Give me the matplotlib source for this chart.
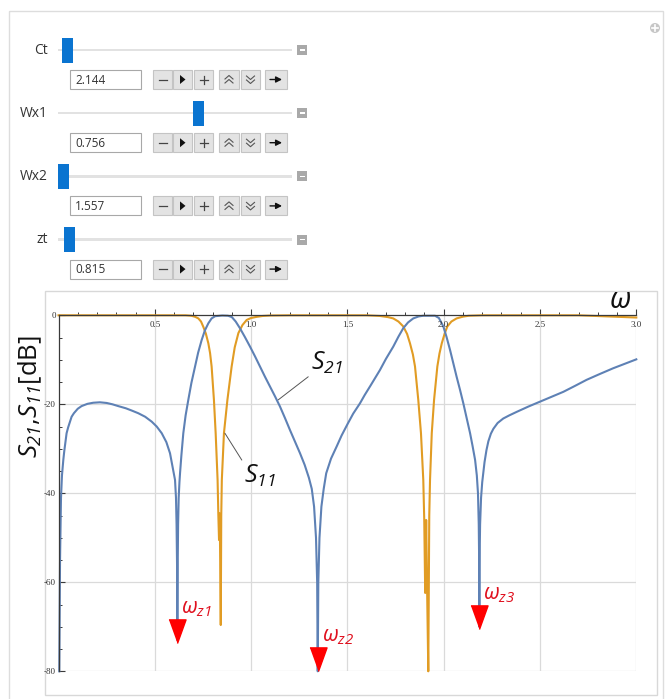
import matplotlib
matplotlib.use('Agg')
import matplotlib.pyplot as plt
from matplotlib.patches import Rectangle, Polygon, Circle
import numpy as np

plt.rcParams['mathtext.fontset'] = 'custom'
plt.rcParams['mathtext.it'] = 'Open Sans:italic'
plt.rcParams['mathtext.rm'] = 'Open Sans:italic'
plt.rcParams['axes.unicode_minus'] = False

# ---------------- data ----------------
s21_w = [0.004, 0.008, 0.013, 0.018, 0.025, 0.03, 0.042, 0.05, 0.068, 0.08,
         0.1, 0.12, 0.15, 0.18, 0.215, 0.25, 0.28, 0.31, 0.35, 0.38,
         0.414, 0.45, 0.484, 0.51, 0.536, 0.56, 0.579, 0.59, 0.605, 0.61,
         0.613, 0.6155, 0.617, 0.619, 0.621, 0.624, 0.628, 0.631, 0.638, 0.648,
         0.66, 0.674, 0.69, 0.709, 0.725, 0.743, 0.76, 0.778, 0.795, 0.813,
         0.85, 0.88, 0.9, 0.92, 0.942, 0.968, 0.994, 1.02, 1.046, 1.072,
         1.098, 1.124, 1.15, 1.176, 1.202, 1.228, 1.254, 1.278, 1.30, 1.315,
         1.327, 1.337, 1.343, 1.346, 1.349, 1.355, 1.365, 1.377, 1.39, 1.415,
         1.444, 1.47, 1.50, 1.53, 1.565, 1.59, 1.62, 1.645, 1.669, 1.7,
         1.738, 1.765, 1.79, 1.815, 1.842, 1.87, 1.894, 1.955, 1.975, 1.998,
         2.015, 2.033, 2.05, 2.067, 2.085, 2.102, 2.12, 2.137, 2.15, 2.163,
         2.172, 2.178, 2.182, 2.1843, 2.185, 2.186, 2.189, 2.194, 2.2, 2.212,
         2.222, 2.232, 2.245, 2.258, 2.28, 2.309, 2.34, 2.379, 2.44, 2.5,
         2.56, 2.621, 2.68, 2.742, 2.81, 2.88, 2.94, 3.0]
s21_db = [-80, -55, -41, -36, -32.5, -30.5, -26.5, -25.2, -22.8, -22.0,
          -21.0, -20.4, -19.9, -19.65, -19.55, -19.7, -20.0, -20.4, -20.9, -21.4,
          -22.0, -22.8, -23.9, -25.0, -26.5, -28.5, -31, -33.5, -37, -41,
          -47, -56, -73, -56, -47, -41, -37.5, -35.5, -31.5, -26.5,
          -22.5, -19, -15.2, -11.5, -8.4, -5.6, -3.4, -1.8, -0.7, -0.2,
          -0.05, -0.1, -0.4, -1.4, -2.9, -4.9, -7.0, -9.2, -11.5, -13.8,
          -16, -18.2, -20.5, -23.1, -25.8, -28.4, -31, -33.6, -36.5, -39,
          -43, -50, -60, -80, -60, -50, -43, -39, -35.5, -32.2,
          -29.5, -27.0, -24.5, -22.1, -19.8, -17.9, -15.8, -14.0, -12.3, -9.8,
          -7.05, -4.8, -2.9, -1.6, -0.7, -0.25, -0.1, -0.1, -0.6, -2.5,
          -4.9, -7.8, -10.8, -13.8, -16.8, -19.8, -23.2, -26.5, -29.4, -32.5,
          -36, -40, -47, -56, -70, -56, -47, -41, -37.5, -33,
          -30.3, -28.3, -26.6, -25.5, -24.2, -23.2, -22.5, -21.7, -20.5, -19.4,
          -18.3, -17.2, -15.9, -14.5, -13.2, -11.9, -10.9, -9.9]

s11_w = [0.0, 0.66, 0.69, 0.71, 0.726, 0.74, 0.752, 0.765, 0.778, 0.787,
         0.795, 0.807, 0.816, 0.826, 0.830, 0.8335, 0.836, 0.8385, 0.8425, 0.845,
         0.848, 0.859, 0.877, 0.899, 0.915, 0.934, 0.955, 0.977, 1.0, 1.029,
         1.06, 1.1, 1.2, 1.6, 1.669, 1.71, 1.738, 1.765, 1.79, 1.81,
         1.825, 1.84, 1.851, 1.868, 1.882, 1.894, 1.899, 1.904, 1.909, 1.914,
         1.920, 1.925, 1.929, 1.938, 1.95, 1.967, 1.978, 1.99, 2.005, 2.019,
         2.04, 2.067, 2.1, 2.13, 2.2, 2.7, 3.0]
s11_db = [0, 0, -0.1, -0.35, -0.7, -1.4, -2.6, -4.1, -6.3, -8.5,
          -11.5, -19, -26.5, -37, -45, -50.5, -44.5, -50.5, -69.6, -45,
          -37, -26.5, -19, -11.5, -7.2, -4.0, -2.2, -1.05, -0.6, -0.35,
          -0.15, -0.05, 0, 0, -0.15, -0.4, -0.7, -1.4, -2.5, -4.2,
          -6.3, -8.8, -11.5, -19, -26.5, -37, -46, -62.4, -46, -62,
          -80, -45, -37, -26.5, -19, -11.5, -8.6, -6.3, -4.1, -2.5,
          -1.4, -0.7, -0.3, -0.1, 0, 0, -0.5]

zero_w = [0.617, 1.346, 2.185]
zero_db = [-73.7, -80.0, -70.5]
zero_labels = [r'$\omega_{z1}$', r'$\omega_{z2}$', r'$\omega_{z3}$']

x_ticks = [0.5, 1.0, 1.5, 2.0, 2.5, 3.0]
x_tick_labels = ['0.5', '1.0', '1.5', '2.0', '2.5', '3.0']
y_ticks = [0, -20, -40, -60, -80]
y_tick_labels = ['0', '-20', '-40', '-60', '-80']

controls = ['Ct', 'Wx1', 'Wx2', 'zt']
control_values = ['2.144', '0.756', '1.557', '0.815']
slider_frac = [0.018, 0.605, 0.0, 0.025]

BLUE = '#5e81b5'
ORANGE = '#e19c24'
RED = '#ff0000'
RED_TXT = '#e0101e'

fig = plt.figure(figsize=(6.65, 6.99), dpi=100)
ui = fig.add_axes([0, 0, 1, 1])
ui.set_xlim(0, 665)
ui.set_ylim(699, 0)
ui.axis('off')

# outer frame and plot panel frame
ui.add_patch(Rectangle((9, 11), 654, 700, fill=False, ec='#dddddd', lw=1))
ui.add_patch(Rectangle((45, 291), 612, 404, fill=False, ec='#d8d8d8', lw=1))
# plus icon top right
ui.add_patch(Circle((655, 28), 5, fc='#c6c6c6', ec='none'))
ui.plot([652, 658], [28, 28], color='white', lw=1.2)
ui.plot([655, 655], [25, 31], color='white', lw=1.2)

ui_font = 'Open Sans'
row_gap = 63.2
for i, (name, val, frac) in enumerate(zip(controls, control_values, slider_frac)):
    sy = 50 + i * row_gap
    ui.text(48, sy, name, ha='right', va='center', fontsize=10, family=ui_font, color='#333333')
    ui.add_patch(Rectangle((58, sy - 1.2), 234, 2.4, fc='#e2e2e2', ec='none'))
    cx = 63.5 + frac * 223
    ui.add_patch(Rectangle((cx - 5.5, sy - 12.5), 11, 25, fc='#0a74d0', ec='none'))
    ui.add_patch(Rectangle((297, sy - 5), 10, 10, fc='#a9a9a9', ec='none'))
    ui.add_patch(Rectangle((299.5, sy - 0.8), 5, 1.6, fc='white', ec='none'))
    by0 = sy + 20
    by1 = by0 + 19
    bc = (by0 + by1) / 2
    ui.add_patch(Rectangle((70, by0), 71, 19, fc='white', ec='#a8a8a8', lw=0.8))
    ui.text(75, bc + 0.5, val, ha='left', va='center', fontsize=8.5, family=ui_font, color='#333333')
    for bx0, bx1 in [(153, 172), (173, 192), (194, 213), (219, 239), (241, 260), (265, 287)]:
        ui.add_patch(Rectangle((bx0, by0), bx1 - bx0, 19, fc='#e3e3e3', ec='#c4c4c4', lw=0.8))
    # minus
    ui.plot([158.5, 166.5], [bc, bc], color='#444444', lw=0.9)
    # play
    ui.add_patch(Polygon([(180, bc - 4.5), (180, bc + 4.5), (185.5, bc)], closed=True, fc='#111111', ec='none'))
    # plus
    ui.plot([199.5, 207.5], [bc, bc], color='#444444', lw=0.9)
    ui.plot([203.5, 203.5], [bc - 4, bc + 4], color='#444444', lw=0.9)
    # double up / down chevrons
    for dy in (-2.5, 1.5):
        ui.plot([225, 229, 233], [bc + dy + 2, bc + dy - 1.5, bc + dy + 2], color='#555555', lw=0.8)
    for dy in (-2.5, 1.5):
        ui.plot([246.5, 250.5, 254.5], [bc + dy - 1, bc + dy + 2.5, bc + dy - 1], color='#555555', lw=0.8)
    # right arrow
    ui.annotate('', xy=(282, bc), xytext=(270, bc),
                arrowprops=dict(arrowstyle='-|>,head_length=0.35,head_width=0.18', color='#111111', lw=1.0,
                                shrinkA=0, shrinkB=0))

# ---------------- plot ----------------
L, R, T, B = 58.5, 636.3, 315.3, 671.3
ax = fig.add_axes([L / 665, 1 - B / 699, (R - L) / 665, (B - T) / 699])
ax.set_xlim(0, 3)
ax.set_ylim(-80, 0)
ax.patch.set_alpha(0)
for s in ['bottom', 'right']:
    ax.spines[s].set_visible(False)
ax.spines['top'].set_color('#3a3a3a')
ax.spines['left'].set_color('#3a3a3a')
ax.spines['top'].set_linewidth(0.9)
ax.spines['left'].set_linewidth(0.9)
ax.spines['top'].set_zorder(3)

for v in x_ticks:
    ax.axvline(v, color='#dadada', lw=0.9, zorder=0)
for v in y_ticks[1:]:
    ax.axhline(v, color='#dadada', lw=0.9, zorder=0)

ax.xaxis.set_ticks_position('top')
ax.set_xticks(x_ticks)
ax.set_xticks(np.arange(0.1, 3.0, 0.1), minor=True)
ax.tick_params(axis='x', which='major', direction='out', length=4, width=0.8, colors='#3a3a3a', labeltop=False)
ax.tick_params(axis='x', which='minor', direction='out', length=2.5, width=0.7, colors='#3a3a3a')
for v, lab in zip(x_ticks, x_tick_labels):
    ax.annotate(lab, xy=(v, 0), xytext=(0, -6), textcoords='offset pixels', ha='center', va='top',
                fontsize=6.5, family='Liberation Serif', color='#333333')

ax.set_yticks(y_ticks)
ax.set_yticklabels(y_tick_labels, family='Liberation Serif', fontsize=6.5, color='#333333')
ax.set_yticks(np.arange(-75, 0, 5), minor=True)
ax.tick_params(axis='y', which='major', direction='in', length=4, width=0.8, colors='#3a3a3a', pad=2)
ax.tick_params(axis='y', which='minor', direction='in', length=2.5, width=0.7, colors='#3a3a3a')
ax.tick_params(axis='y', labelcolor='#333333')

ax.plot(s11_w, s11_db, color=ORANGE, lw=1.5, clip_on=False, zorder=2, solid_joinstyle='round')
ax.plot(s21_w, s21_db, color=BLUE, lw=1.5, clip_on=False, zorder=2.1, solid_joinstyle='round')

tri = [(-8.5, 23.5), (8.5, 23.5), (0, 0)]
for w, d, lab in zip(zero_w, zero_db, zero_labels):
    ax.plot([w], [d], marker=tri, markersize=34, color=RED, linestyle='none', clip_on=False, zorder=4)
    ax.annotate(lab, xy=(w, d), xytext=(4, 34), textcoords='offset pixels', ha='left', va='center',
                fontsize=15.5, color=RED_TXT, zorder=5)

ax.annotate(r'$S_{21}$', xy=(1.141, -19.0), xytext=(1.394, -10.7), ha='center', va='center',
            fontsize=18, color='#111111',
            arrowprops=dict(arrowstyle='-', color='#555555', lw=0.7, shrinkA=0, shrinkB=0, relpos=(0.05, 0.1)))
ax.annotate(r'$S_{11}$', xy=(0.864, -26.5), xytext=(1.044, -36.1), ha='center', va='center',
            fontsize=18, color='#111111',
            arrowprops=dict(arrowstyle='-', color='#555555', lw=0.7, shrinkA=0, shrinkB=0, relpos=(0.05, 0.9)))

fig.text(620 / 665, 1 - 300 / 699, r'$\omega$', fontsize=21, ha='center', va='center', color='#111111')
fig.text(30 / 665, 1 - 397 / 699, r'$S_{21}$,$S_{11}$[dB]', rotation=90, fontsize=18.5,
         family='Open Sans', ha='center', va='center', color='#111111')

fig.savefig('out.png', dpi=100)
